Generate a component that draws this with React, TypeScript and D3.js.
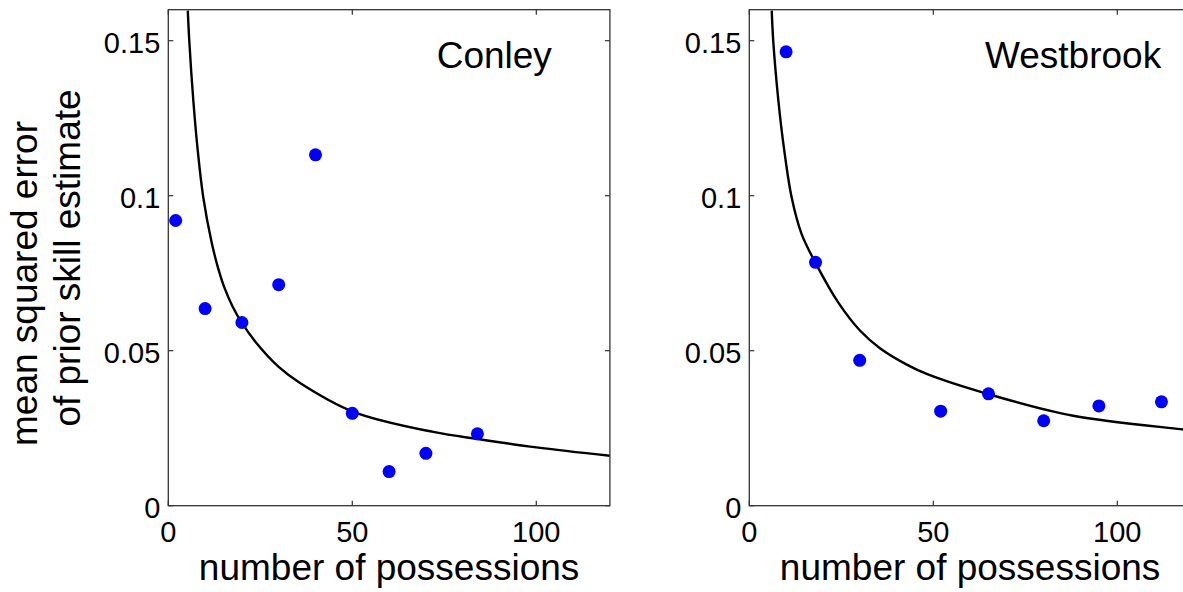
import React, { useRef, useEffect } from 'react';
import * as d3 from 'd3';

// tick values shared by both panels
const possessionTicks = [0, 50, 100];
const errorTicks = [0, 0.05, 0.1, 0.15];

// observed points
const conleyN = [2, 10, 20, 30, 40, 50, 60, 70, 84];
const conleyMse = [0.092, 0.0636, 0.0591, 0.0713, 0.1132, 0.0298, 0.011, 0.0169, 0.0232];
const westbrookN = [10, 18, 30, 52, 65, 80, 95, 112];
const westbrookMse = [0.1464, 0.0785, 0.0469, 0.0305, 0.0361, 0.0274, 0.0322, 0.0335];

// fitted curves
const conleyFitN = [5.3, 5.7, 6.8, 8.0, 9.5, 11.8, 13.5, 15.2, 17.5, 20.1, 23.6, 30, 35.8, 50.3, 72, 84.7, 100, 120];
const conleyFitMse = [0.1597, 0.15, 0.1307, 0.1146, 0.0995, 0.0848, 0.0768, 0.0705, 0.0642, 0.0588, 0.053, 0.0448, 0.0396, 0.0303, 0.0238, 0.0214, 0.0188, 0.0161];
const westbrookFitN = [6.1, 6.5, 7.9, 9.5, 11.5, 14.2, 18.1, 24.2, 30, 35.5, 42.8, 48.2, 64.9, 88, 117.1, 120];
const westbrookFitMse = [0.1597, 0.15, 0.1307, 0.1146, 0.0995, 0.0877, 0.0781, 0.0655, 0.0566, 0.0508, 0.0455, 0.0425, 0.036, 0.029, 0.0247, 0.0243];

const players = [
  { name: 'Conley', n: conleyN, mse: conleyMse, fitN: conleyFitN, fitMse: conleyFitMse, left: 168.3, titleX: 436.7 },
  { name: 'Westbrook', n: westbrookN, mse: westbrookMse, fitN: westbrookFitN, fitMse: westbrookFitMse, left: 749.3, titleX: 985 },
];

const FONT = '"Liberation Sans", Arial, Helvetica, sans-serif';

const App = () => {
  const svgRef = useRef<SVGSVGElement>(null);

  useEffect(() => {
    const width = 1183;
    const height = 592;
    const top = 9.7;
    const bottom = 505.7;
    const panelW = 441.6;
    const tickLen = 5;

    const svg = d3.select(svgRef.current)
      .attr('width', width)
      .attr('height', height)
      .style('font-family', FONT);

    svg.selectAll('*').remove();

    const y = d3.scaleLinear().domain([0, 0.16]).range([bottom, top]);

    players.forEach((p, i) => {
      const x = d3.scaleLinear().domain([0, 120]).range([p.left, p.left + panelW]);
      const g = svg.append('g');
      const clipId = `clip-${i}`;

      g.append('clipPath').attr('id', clipId)
        .append('rect')
        .attr('x', x(0)).attr('y', y(0.16))
        .attr('width', x(120) - x(0)).attr('height', y(0) - y(0.16));

      // fitted curve
      const fit = p.fitN.map((n, k) => [n, p.fitMse[k]] as [number, number]);
      g.append('path')
        .datum(fit)
        .attr('clip-path', `url(#${clipId})`)
        .attr('fill', 'none')
        .attr('stroke', '#000')
        .attr('stroke-width', 2.4)
        .attr('d', d3.line<[number, number]>()
          .x(d => x(d[0]))
          .y(d => y(d[1]))
          .curve(d3.curveCatmullRom.alpha(0.5)));

      // observed points
      g.selectAll('.dot')
        .data(p.n.map((n, k) => [n, p.mse[k]]))
        .enter()
        .append('circle')
        .attr('cx', d => x(d[0]))
        .attr('cy', d => y(d[1]))
        .attr('r', 6.5)
        .attr('fill', '#0000ff');

      // box
      g.append('rect')
        .attr('x', x(0)).attr('y', y(0.16))
        .attr('width', x(120) - x(0)).attr('height', y(0) - y(0.16))
        .attr('fill', 'none')
        .attr('stroke', '#333')
        .attr('stroke-width', 1.3);

      // inward ticks, all four sides
      possessionTicks.forEach(t => {
        g.append('line').attr('x1', x(t)).attr('x2', x(t))
          .attr('y1', y(0)).attr('y2', y(0) - tickLen).attr('stroke', '#333').attr('stroke-width', 1.2);
        g.append('line').attr('x1', x(t)).attr('x2', x(t))
          .attr('y1', y(0.16)).attr('y2', y(0.16) + tickLen).attr('stroke', '#333').attr('stroke-width', 1.2);
      });
      errorTicks.forEach(t => {
        g.append('line').attr('x1', x(0)).attr('x2', x(0) + tickLen)
          .attr('y1', y(t)).attr('y2', y(t)).attr('stroke', '#333').attr('stroke-width', 1.2);
        g.append('line').attr('x1', x(120)).attr('x2', x(120) - tickLen)
          .attr('y1', y(t)).attr('y2', y(t)).attr('stroke', '#333').attr('stroke-width', 1.2);
      });

      // tick labels
      g.selectAll('.xtick')
        .data(possessionTicks)
        .enter()
        .append('text')
        .attr('x', d => x(d))
        .attr('y', bottom + 36)
        .attr('text-anchor', 'middle')
        .style('font-size', '29px')
        .text(d => String(d));

      g.selectAll('.ytick')
        .data(errorTicks)
        .enter()
        .append('text')
        .attr('x', x(0) - 8)
        .attr('y', d => y(d) + 12)
        .attr('text-anchor', 'end')
        .style('font-size', '29px')
        .text(d => String(d));

      // x label
      g.append('text')
        .attr('x', (x(0) + x(120)) / 2)
        .attr('y', 580)
        .attr('text-anchor', 'middle')
        .style('font-size', '37px')
        .text('number of possessions');

      // player name
      g.append('text')
        .attr('x', p.titleX)
        .attr('y', 68.3)
        .style('font-size', '37px')
        .text(p.name);
    });

    // y label, two lines
    svg.append('text')
      .attr('transform', 'translate(37,283.5) rotate(-90)')
      .attr('text-anchor', 'middle')
      .style('font-size', '37px')
      .text('mean squared error');
    svg.append('text')
      .attr('transform', 'translate(80,258) rotate(-90)')
      .attr('text-anchor', 'middle')
      .style('font-size', '37px')
      .text('of prior skill estimate');
  }, []);

  return (
    <svg ref={svgRef} style={{ position: 'absolute', left: 0, top: 0, background: '#fff' }}></svg>
  );
};

export default App;
